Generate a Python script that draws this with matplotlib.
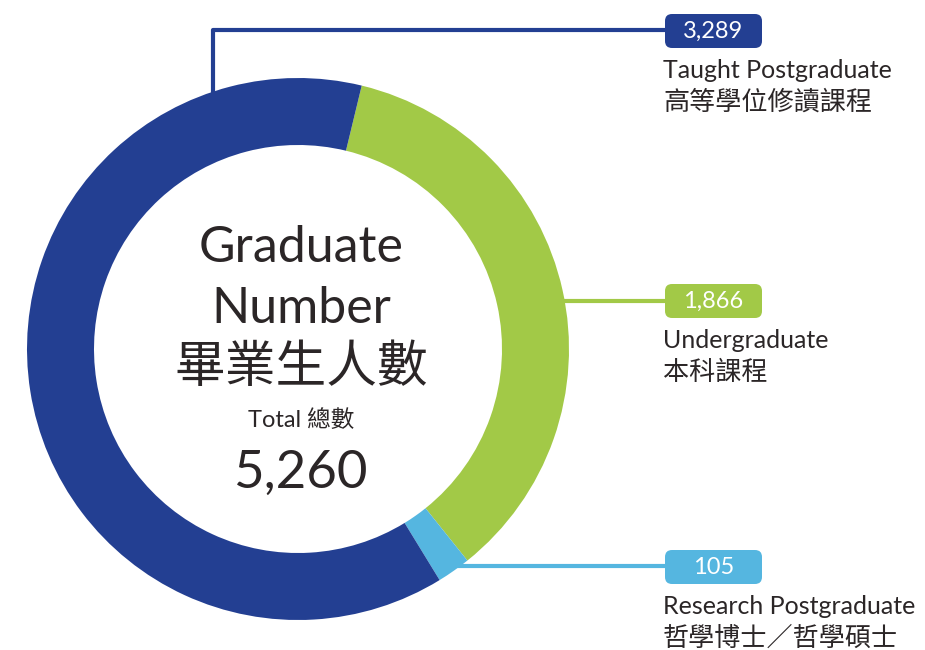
import matplotlib.pyplot as plt
from matplotlib.patches import FancyBboxPatch

# data
labels_en = ['Taught Postgraduate', 'Undergraduate', 'Research Postgraduate']
labels_zh = ['高等學位修讀課程', '本科課程', '哲學博士／哲學碩士']
counts = [3289, 1866, 105]
colors = ['#233f92', '#a2c947', '#55b6e0']
total = sum(counts)

FONT = ['Lato', 'Noto Sans CJK TC', 'DejaVu Sans']
TXT = '#2b2627'
W, H = 925, 650

fig = plt.figure(figsize=(W / 100, H / 100), dpi=100)
ax = fig.add_axes([0, 0, 1, 1])

cx, cy, r, ring = 298, H - 349, 271, 67

# ring: undergrad, research, taught clockwise from just right of top
order = [1, 2, 0]
ax.pie([counts[i] for i in order], colors=[colors[i] for i in order],
       center=(cx, cy), radius=r, startangle=76.4, counterclock=False,
       wedgeprops=dict(width=ring, linewidth=0), frame=True)
ax.set_xlim(0, W)
ax.set_ylim(0, H)
ax.set_aspect('equal')
ax.axis('off')

# leader lines
lw = 3
ax.plot([213, 213, 668], [H - 95, H - 30, H - 30], color=colors[0], lw=lw, zorder=0, solid_capstyle='butt')
ax.plot([560, 668], [H - 301, H - 301], color=colors[1], lw=lw, zorder=0)
ax.plot([450, 668], [H - 566, H - 566], color=colors[2], lw=lw, zorder=0)

# value boxes + labels
box_top = [14, 284, 550]
for i in range(3):
    y0 = H - box_top[i] - 34
    ax.add_patch(FancyBboxPatch((665, y0), 97, 34,
                                boxstyle='round,pad=0,rounding_size=7',
                                fc=colors[i], ec='none', zorder=3))
    ax.text(713.5, y0 + 17, f'{counts[i]:,}', color='white', fontsize=17,
            ha='center', va='center', family=FONT, zorder=4)
    ax.text(663, H - box_top[i] - 56, labels_en[i], color=TXT, fontsize=18,
            ha='left', va='center', family=FONT)
    ax.text(663, H - box_top[i] - 88, labels_zh[i], color=TXT, fontsize=18.8,
            ha='left', va='center', family=FONT)

# centre text
kw = dict(color=TXT, ha='center', va='center', family=FONT)
ax.text(301, H - 248, 'Graduate', fontsize=36, **kw)
ax.text(301, H - 309, 'Number', fontsize=36, **kw)
ax.text(301, H - 368, '畢業生人數', fontsize=36.5, **kw)
ax.text(301, H - 420, 'Total 總數', fontsize=17, **kw)
ax.text(300, H - 473, f'{total:,}', fontsize=38, **kw)

fig.savefig('out.png', dpi=100, facecolor='white')
